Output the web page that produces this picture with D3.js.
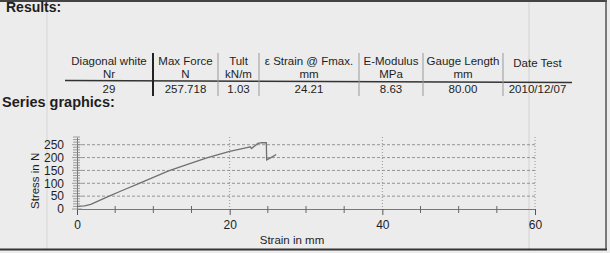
<!DOCTYPE html>
<html>
<head>
<meta charset="utf-8">
<script src="https://cdn.jsdelivr.net/npm/d3@7"></script>
<style>
  body { margin: 0; background: #ececec; }
  svg { display: block; font-family: "Liberation Sans", Arial, sans-serif; }
</style>
</head>
<body>
<div id="page"></div>
<script>
// results table
const headers = ["Diagonal white", "Max Force", "Tult", "\u03b5 Strain @ Fmax.", "E-Modulus", "Gauge Length", "Date Test"];
const units = ["Nr", "N", "kN/m", "mm", "MPa", "mm", ""];
const results = ["29", "257.718", "1.03", "24.21", "8.63", "80.00", "2010/12/07"];

// series graphic (strain in mm, stress in N)
const strain = [0, 1, 1.8, 2.6, 4.2, 6, 8, 10, 12, 14, 17, 20, 22.4, 22.7, 22.85, 23.7, 24.2, 24.8, 24.85, 25.4, 26.1];
const stress = [10, 12, 18, 29, 50, 73, 98, 123, 148, 169, 199, 224, 240, 242, 235, 255, 257.7, 257.7, 191, 200, 212];
const xTicks = [0, 20, 40, 60];
const yTicks = [0, 50, 100, 150, 200, 250];

const W = 610, H = 253;
const ink = "#1e1e1e";

const svg = d3.select("#page").append("svg")
    .attr("width", W)
    .attr("height", H);

// scanned page frame
svg.append("rect").attr("width", W).attr("height", H).attr("fill", "#ececec");
svg.append("line").attr("x1", 47).attr("x2", 47).attr("y1", 0).attr("y2", 249)
    .attr("stroke", "#d6d6d6").attr("stroke-width", 1);
svg.append("line").attr("x1", 529).attr("x2", 529).attr("y1", 0).attr("y2", 249)
    .attr("stroke", "#d2d2d2").attr("stroke-width", 1);
svg.append("line").attr("x1", 0).attr("x2", 607).attr("y1", 1).attr("y2", 1)
    .attr("stroke", "#444").attr("stroke-width", 2);
svg.append("line").attr("x1", 606).attr("x2", 606).attr("y1", 0).attr("y2", 250)
    .attr("stroke", "#555").attr("stroke-width", 1.5);
svg.append("line").attr("x1", 0).attr("x2", 607).attr("y1", 249.5).attr("y2", 249.5)
    .attr("stroke", "#333").attr("stroke-width", 2);

svg.append("text").attr("x", 6).attr("y", 12)
    .attr("font-size", 14).attr("font-weight", "bold").attr("fill", ink)
    .text("Results:");
svg.append("text").attr("x", 2).attr("y", 107)
    .attr("font-size", 14.5).attr("font-weight", "bold").attr("fill", ink)
    .text("Series graphics:");

// table
const colEdges = [65, 153, 218, 259, 359, 423, 503, 572];
const cx = i => (colEdges[i] + colEdges[i + 1]) / 2;
const table = svg.append("g").attr("font-size", 11.5).attr("fill", ink).attr("text-anchor", "middle");

table.selectAll(".hd").data(headers).join("text")
    .attr("class", "hd")
    .attr("x", (d, i) => cx(i))
    .attr("y", (d, i) => i === headers.length - 1 ? 67 : 64.5)
    .text(d => d);
table.selectAll(".un").data(units).join("text")
    .attr("class", "un")
    .attr("x", (d, i) => cx(i))
    .attr("y", 77.5)
    .text(d => d);
table.selectAll(".val").data(results).join("text")
    .attr("class", "val")
    .attr("x", (d, i) => cx(i))
    .attr("y", 93)
    .text(d => d);

svg.append("line").attr("x1", colEdges[0]).attr("x2", colEdges[colEdges.length - 1])
    .attr("y1", 80.5).attr("y2", 82.5)
    .attr("stroke", "#333").attr("stroke-width", 1.5);
svg.selectAll(".sep").data(colEdges.slice(1, -1)).join("line")
    .attr("class", "sep")
    .attr("x1", d => d).attr("x2", d => d)
    .attr("y1", 53).attr("y2", 96)
    .attr("stroke", (d, i) => i === 0 ? "#222" : "#999")
    .attr("stroke-width", (d, i) => i === 0 ? 2 : 1);

// chart
const x = d3.scaleLinear().domain([0, 60]).range([77, 535]);
const y = d3.scaleLinear().domain([0, 280]).range([209, 137]);

const grid = svg.append("g").attr("fill", "none");
grid.selectAll(".hg").data(yTicks.slice(1)).join("line")
    .attr("class", "hg")
    .attr("x1", x(0)).attr("x2", x(60))
    .attr("y1", d => y(d)).attr("y2", d => y(d))
    .attr("stroke", "#8a8a8a").attr("stroke-width", 0.9)
    .attr("stroke-dasharray", "3,2");
grid.selectAll(".vg").data(xTicks.slice(1)).join("line")
    .attr("class", "vg")
    .attr("x1", d => x(d)).attr("x2", d => x(d))
    .attr("y1", y(280)).attr("y2", y(0))
    .attr("stroke", "#8a8a8a").attr("stroke-width", 0.9)
    .attr("stroke-dasharray", "1,2");

// x axis
const xAxis = svg.append("g").attr("transform", `translate(0,${y(0)})`)
    .call(d3.axisBottom(x).tickValues(xTicks).tickSize(6).tickPadding(5).tickFormat(d3.format("d")));
xAxis.select(".domain").attr("stroke", "#777");
xAxis.selectAll(".tick line").attr("stroke", "#555");
xAxis.selectAll("text").attr("font-size", 12).attr("fill", ink)
    .attr("font-family", "Liberation Sans, Arial, sans-serif");
svg.append("g").selectAll("line").data(d3.range(5, 60, 5).filter(d => d % 20 !== 0)).join("line")
    .attr("x1", d => x(d)).attr("x2", d => x(d))
    .attr("y1", y(0) - 3).attr("y2", y(0) + 4)
    .attr("stroke", "#666").attr("stroke-width", 1);

// y axis with dense minor ticks
const yAxis = svg.append("g").attr("transform", `translate(${x(0)},0)`)
    .call(d3.axisLeft(y).tickValues(yTicks).tickSize(0).tickPadding(13));
yAxis.select(".domain").attr("stroke", "#777");
yAxis.selectAll("text").attr("font-size", 12).attr("fill", ink)
    .attr("font-family", "Liberation Sans, Arial, sans-serif");
svg.append("g").selectAll("line").data(d3.range(0, 290, 10)).join("line")
    .attr("x1", d => x(0) - (d % 50 === 0 ? 5 : 4)).attr("x2", d => x(0) + (d % 50 === 0 ? 5 : 3))
    .attr("y1", d => y(d)).attr("y2", d => y(d))
    .attr("stroke", "#888").attr("stroke-width", 0.8);

// curve
const pts = strain.map((s, i) => [s, stress[i]]);
svg.append("path").datum(pts)
    .attr("fill", "none")
    .attr("stroke", "#707070")
    .attr("stroke-width", 1.3)
    .attr("d", d3.line().x(d => x(d[0])).y(d => y(d[1])));

// axis titles
svg.append("text")
    .attr("transform", `translate(39,${(y(0) + y(250)) / 2 + 4}) rotate(-90)`)
    .attr("text-anchor", "middle").attr("font-size", 11.5).attr("fill", ink)
    .text("Stress in N");
svg.append("text").attr("x", 292).attr("y", 244)
    .attr("text-anchor", "middle").attr("font-size", 11.5).attr("fill", ink)
    .text("Strain in mm");
</script>
</body>
</html>
